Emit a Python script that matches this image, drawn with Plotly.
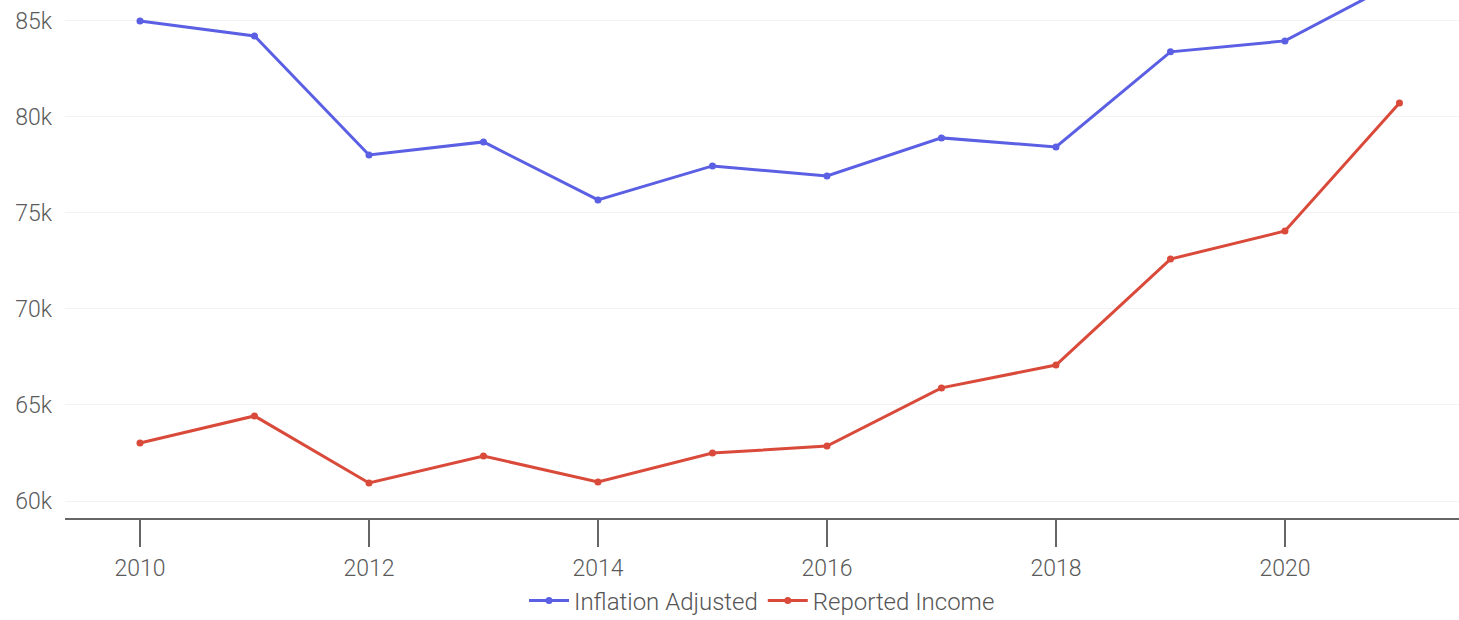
import plotly.graph_objects as go

years = list(range(2010, 2022))
inflation_adjusted = [85.0, 84.22, 78.02, 78.70, 75.68, 77.45, 76.93, 78.91, 78.44, 83.39, 83.96, 87.1]
reported_income = [63.02, 64.43, 60.94, 62.34, 60.99, 62.50, 62.86, 65.89, 67.08, 72.60, 74.06, 80.73]
y_tickvals = [60, 65, 70, 75, 80, 85]
y_ticktext = ["60k", "65k", "70k", "75k", "80k", "85k"]
x_tickvals = [2010, 2012, 2014, 2016, 2018, 2020]

fig = go.Figure()
fig.add_trace(go.Scatter(x=years, y=inflation_adjusted, name="Inflation Adjusted",
                         mode="lines+markers", line=dict(color="#5b5fe3", width=3),
                         marker=dict(size=7, color="#5b5fe3")))
fig.add_trace(go.Scatter(x=years, y=reported_income, name="Reported Income",
                         mode="lines+markers", line=dict(color="#d94a3a", width=3),
                         marker=dict(size=7, color="#d94a3a")))

fig.update_layout(
    width=1459, height=620,
    margin=dict(l=65, r=0, t=0, b=102, autoexpand=False),
    paper_bgcolor="white", plot_bgcolor="white",
    font=dict(family="Roboto", size=23, color="#5a5a5a", weight=300),
    showlegend=True,
    legend=dict(orientation="h", x=0.5, xanchor="center", y=-0.16, yanchor="middle",
                font=dict(size=24, color="#555555", weight=300), itemwidth=40, tracegroupgap=0),
    xaxis=dict(range=[2009.345, 2021.52], tickvals=x_tickvals, ticks="outside", ticklen=27,
               tickwidth=2, tickcolor="#666666", showline=True, linecolor="#666666",
               linewidth=2, showgrid=False, zeroline=False, ticklabelstandoff=1),
    yaxis=dict(range=[59.115, 86.09], tickvals=y_tickvals, ticktext=y_ticktext,
               showgrid=True, gridcolor="#f2f2f2", gridwidth=1, zeroline=False,
               showline=False, ticks="", ticklabelstandoff=12),
)

fig.write_html("out.html")
